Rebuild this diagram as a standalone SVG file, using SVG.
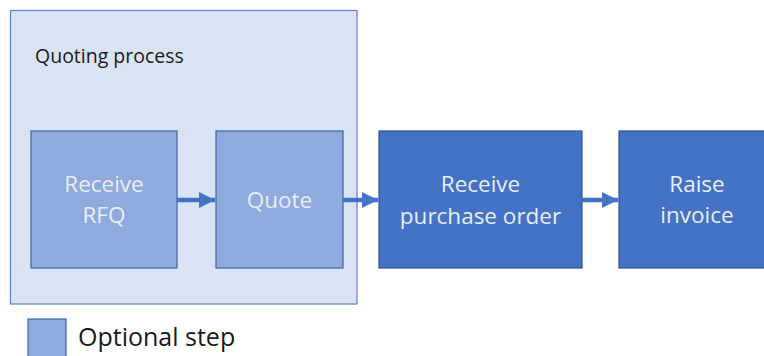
<svg xmlns="http://www.w3.org/2000/svg" width="764" height="356" viewBox="0 0 764 356">
<style>
.opt{fill:#8faadc;stroke:#3d64ad;stroke-width:1.2}
.main{fill:#4472c4;stroke:#2f5597;stroke-width:1.2}
.nt{font-family:"Open Sans","Noto Sans",sans-serif;font-size:22.5px;fill:#e9eef8;text-anchor:middle}
.lbl{font-family:"Open Sans","Noto Sans",sans-serif;fill:#1a1a1a}
.conn{stroke:#4472c4;stroke-width:4.5;fill:none}
</style>
<defs>
<marker id="ah" markerUnits="userSpaceOnUse" markerWidth="17" markerHeight="17" refX="16" refY="8" orient="auto">
<path d="M0,0 L16,8 L0,16 Z" fill="#4472c4"/>
</marker>
</defs>
<rect width="764" height="356" fill="#ffffff"/>
<g id="quoting-process">
<rect x="10.5" y="10.5" width="346.5" height="293.5" fill="#dae3f3" stroke="#5f82c6" stroke-width="1.2"/>
<text class="lbl" x="35" y="63" font-size="19.5px">Quoting process</text>
</g>
<g id="receive-rfq">
<rect class="opt" x="31" y="131" width="146" height="137"/>
<text class="nt" x="104" y="192">Receive</text>
<text class="nt" x="104" y="223">RFQ</text>
</g>
<g id="quote">
<rect class="opt" x="216" y="131" width="127" height="137"/>
<text class="nt" x="279.5" y="208">Quote</text>
</g>
<g id="receive-po">
<rect class="main" x="379" y="131" width="203" height="137"/>
<text class="nt" x="480.5" y="192">Receive</text>
<text class="nt" x="480.5" y="224">purchase order</text>
</g>
<g id="raise-invoice">
<rect class="main" x="619" y="131" width="150" height="137"/>
<text class="nt" x="697" y="192">Raise</text>
<text class="nt" x="697" y="223">invoice</text>
</g>
<g id="connectors">
<line class="conn" x1="177" y1="200" x2="215" y2="200" marker-end="url(#ah)"/>
<line class="conn" x1="343" y1="200" x2="378" y2="200" marker-end="url(#ah)"/>
<line class="conn" x1="582" y1="200" x2="618" y2="200" marker-end="url(#ah)"/>
</g>
<g id="legend">
<rect class="opt" x="28" y="319" width="38" height="40"/>
<text class="lbl" x="78" y="346" font-size="25px">Optional step</text>
</g>
</svg>
